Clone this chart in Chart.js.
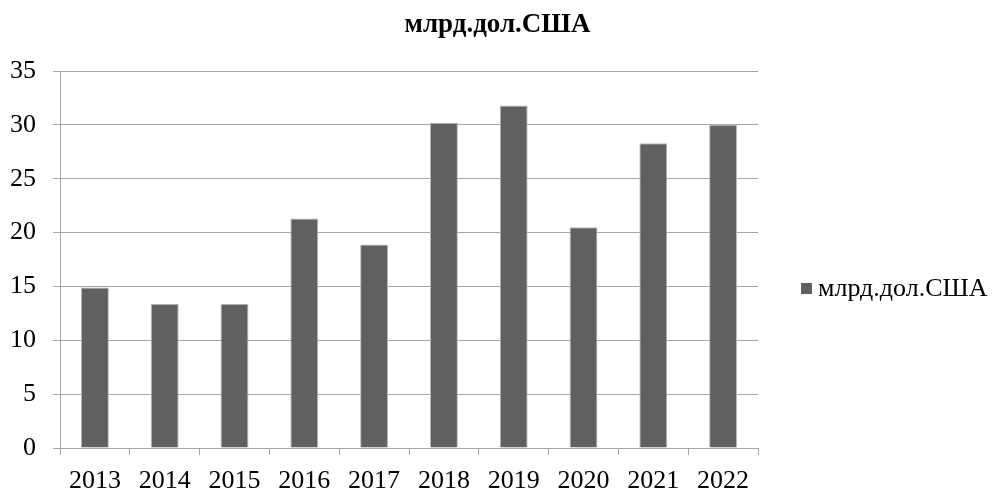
<!DOCTYPE html>
<html>
<head>
<meta charset="utf-8">
<script src="https://cdn.jsdelivr.net/npm/chart.js@4.4.0/dist/chart.umd.min.js"></script>
<style>
  html, body { margin: 0; padding: 0; background: #fff; }
  #chart { display: block; }
</style>
</head>
<body>
<canvas id="chart" width="995" height="499"></canvas>
<script>
const years = ['2013', '2014', '2015', '2016', '2017', '2018', '2019', '2020', '2021', '2022'];
const investments = [14.9, 13.4, 13.4, 21.3, 18.9, 30.2, 31.8, 20.5, 28.3, 30.0];
const seriesName = 'млрд.дол.США';
const yMin = 0;
const yMax = 35;
const yStep = 5;

const serif = '"Liberation Serif", "Times New Roman", serif';
const gridGrey = '#a6a6a6';
const barGrey = '#606060';

// title centred over the whole canvas, legend to the right of the plot
const outerText = {
  id: 'outerText',
  afterDraw(chart) {
    const ctx = chart.ctx;
    const ds = chart.data.datasets[0];
    ctx.save();
    ctx.fillStyle = '#000';
    ctx.textBaseline = 'middle';
    ctx.textAlign = 'center';
    ctx.font = 'bold 27px ' + serif;
    ctx.fillText(seriesName, chart.width / 2, 25);

    const midY = 289;
    ctx.fillStyle = ds.backgroundColor;
    ctx.fillRect(801, midY - 6, 11, 11);
    ctx.fillStyle = '#000';
    ctx.textAlign = 'left';
    ctx.font = '26px ' + serif;
    ctx.fillText(ds.label, 818, midY);
    ctx.restore();
  }
};

new Chart(document.getElementById('chart'), {
  type: 'bar',
  data: {
    labels: years,
    datasets: [{
      label: seriesName,
      data: investments,
      backgroundColor: barGrey,
      borderColor: '#b8b8b8',
      borderWidth: 1,
      categoryPercentage: 0.4,
      barPercentage: 1.0
    }]
  },
  options: {
    responsive: false,
    animation: false,
    layout: { padding: { top: 71, left: 0, right: 237, bottom: 0 } },
    plugins: {
      legend: { display: false },
      tooltip: { enabled: false },
      title: { display: false }
    },
    scales: {
      x: {
        grid: { offset: true, drawOnChartArea: false, tickLength: 7, color: gridGrey },
        border: { color: gridGrey },
        ticks: { color: '#000', font: { family: serif, size: 26 }, padding: 11 },
        afterFit: (scale) => { scale.height = 51; }
      },
      y: {
        min: yMin,
        max: yMax,
        grid: { color: gridGrey, tickLength: 7 },
        border: { color: gridGrey },
        ticks: { stepSize: yStep, color: '#000', font: { family: serif, size: 26 }, padding: 17 },
        afterFit: (scale) => { scale.width = 60; }
      }
    }
  },
  plugins: [outerText]
});
</script>
</body>
</html>
